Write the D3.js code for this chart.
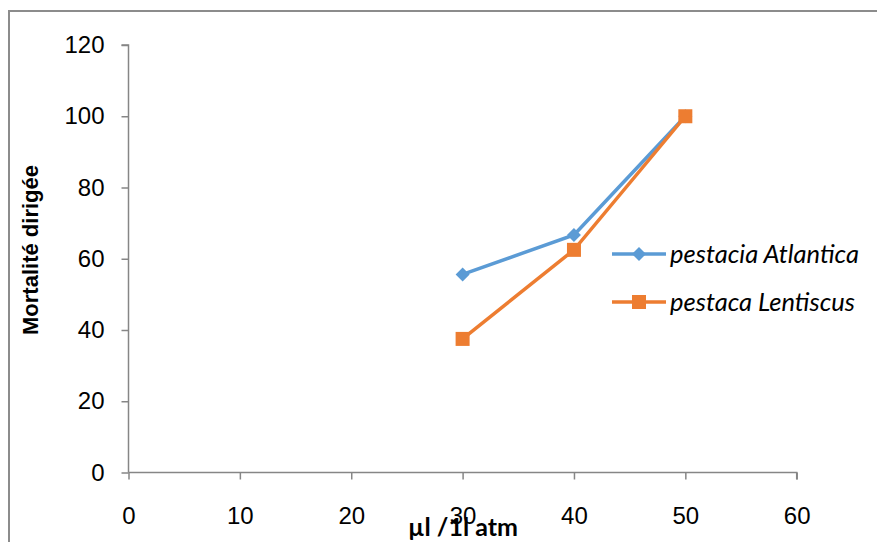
<!DOCTYPE html>
<html>
<head>
<meta charset="utf-8">
<script src="https://cdn.jsdelivr.net/npm/d3@7"></script>
<style>
  body { margin: 0; background: #fff; }
  svg { display: block; font-family: Lato, "Open Sans", sans-serif; }
  .axis path, .axis line { stroke: #868686; stroke-width: 1.5px; }
  .axis text { font-size: 24px; fill: #000; }
</style>
</head>
<body>
<div id="chart"></div>
<script>
const doses = [30, 40, 50];
const atlantica = [55.6, 66.7, 100];
const lentiscus = [37.5, 62.5, 100];
const xTicks = [0, 10, 20, 30, 40, 50, 60];
const yTicks = [0, 20, 40, 60, 80, 100, 120];
const seriesNames = ["pestacia Atlantica", "pestaca Lentiscus"];

const W = 877, H = 542;
const margin = { left: 128.5, top: 45, right: 80, bottom: 70 };
const width = 796.7 - margin.left;
const height = 472.5 - margin.top;

const svg = d3.select("#chart").append("svg")
  .attr("width", W).attr("height", H);

// chart frame
svg.append("rect")
  .attr("x", 9).attr("y", 11)
  .attr("width", 900).attr("height", 600)
  .attr("fill", "none").attr("stroke", "#8c8c8c").attr("stroke-width", 2);

const x = d3.scaleLinear().domain([0, 60]).range([0, width]);
const y = d3.scaleLinear().domain([0, 120]).range([height, 0]);

const chart = svg.append("g").attr("transform", `translate(${margin.left},${margin.top})`);

chart.append("g").attr("class", "axis")
  .call(d3.axisLeft(y).tickValues(yTicks).tickSize(7).tickPadding(17))
  .call(g => g.select(".domain").attr("d", `M0,${height}V0H-7`));

chart.append("g").attr("class", "axis")
  .attr("transform", `translate(0,${height})`)
  .call(d3.axisBottom(x).tickValues(xTicks).tickSize(7).tickPadding(27))
  .call(g => g.select(".domain").attr("d", `M0,0H${width}V7`));

const series = [
  { name: seriesNames[0], values: atlantica, color: "#5B9BD5", marker: "diamond" },
  { name: seriesNames[1], values: lentiscus, color: "#ED7D31", marker: "square" }
];

const line = d3.line().x(d => x(d[0])).y(d => y(d[1]));

function marker(g, type, color) {
  if (type === "diamond") {
    g.append("path").attr("d", "M0,-7L7,0L0,7L-7,0Z").attr("fill", color);
  } else {
    g.append("rect").attr("x", -7).attr("y", -7).attr("width", 14).attr("height", 14).attr("fill", color);
  }
}

series.forEach(s => {
  const pts = doses.map((d, i) => [d, s.values[i]]);
  chart.append("path").datum(pts)
    .attr("d", line).attr("fill", "none")
    .attr("stroke", s.color).attr("stroke-width", 3.5);
  pts.forEach(p => {
    const g = chart.append("g").attr("transform", `translate(${x(p[0])},${y(p[1])})`);
    marker(g, s.marker, s.color);
  });
});

// legend
const legend = svg.append("g");
series.forEach((s, i) => {
  const ly = 254 + i * 48;
  const g = legend.append("g").attr("transform", `translate(612,${ly})`);
  g.append("line").attr("x1", 0).attr("x2", 54).attr("y1", 0).attr("y2", 0)
    .attr("stroke", s.color).attr("stroke-width", 3.5);
  const m = g.append("g").attr("transform", "translate(27,0)");
  marker(m, s.marker, s.color);
  g.append("text").attr("x", 58).attr("y", 0).attr("dy", "0.35em")
    .attr("font-size", 25.5).attr("font-style", "italic").text(s.name);
});

// axis titles
svg.append("text")
  .attr("transform", `translate(38,250) rotate(-90)`)
  .attr("text-anchor", "middle").attr("font-size", 22).attr("font-weight", "bold")
  .attr("font-family", "'Liberation Sans', Arial, sans-serif")
  .text("Mortalité dirigée");

svg.append("text")
  .attr("x", 463).attr("y", 536)
  .attr("text-anchor", "middle").attr("font-size", 25).attr("font-weight", "bold")
  .text("µl /1l atm");
</script>
</body>
</html>
